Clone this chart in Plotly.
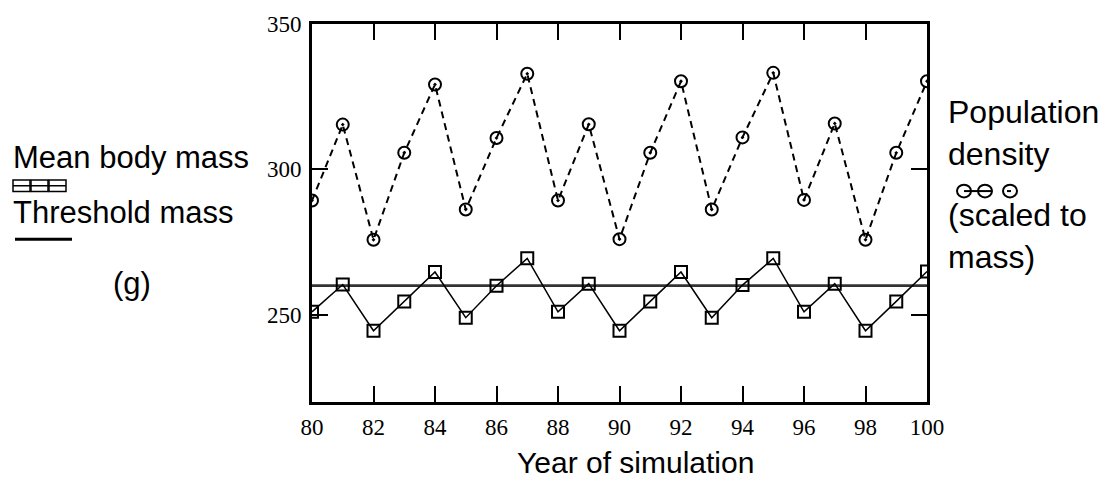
import plotly.graph_objects as go

# Simulation years and series values
years = list(range(80, 101))
population_density = [289.3, 315.4, 275.8, 305.7, 329.2, 286.2, 310.8, 332.9, 289.3, 315.5,
                      276.0, 305.7, 330.3, 286.2, 311.0, 333.2, 289.5, 315.8, 275.8, 305.7, 330.3]
mean_body_mass = [251.0, 260.4, 244.5, 254.6, 264.7, 249.0, 260.0, 269.4, 251.0, 260.7,
                  244.5, 254.6, 264.7, 249.0, 260.2, 269.4, 251.0, 260.7, 244.5, 254.6, 264.9]
threshold_mass = 260.0
x_ticks = list(range(80, 101, 2))
y_ticks = [250, 300, 350]

W, H = 1116, 484
L, R, T, B = 312, 189, 14, 82
PW, PH = W - L - R, H - T - B


def px(x):
    return (x - L) / PW


def py(y):
    return (H - B - y) / PH


SANS = "Liberation Sans, Arial, sans-serif"
SERIF = "Liberation Serif, Times New Roman, serif"

fig = go.Figure()

fig.add_trace(go.Scatter(
    x=[years[0], years[-1]], y=[threshold_mass, threshold_mass], mode="lines",
    line=dict(color="#333333", width=2.8), hoverinfo="skip"))

fig.add_trace(go.Scatter(
    x=years, y=population_density, mode="lines+markers",
    line=dict(color="black", width=2, dash="7px,5px"),
    marker=dict(symbol="circle-open-dot", size=12, color="black",
                line=dict(width=2, color="black"))))

fig.add_trace(go.Scatter(
    x=years, y=mean_body_mass, mode="lines+markers",
    line=dict(color="black", width=1.5),
    marker=dict(symbol="square-open", size=12, color="black",
                line=dict(width=2, color="black"))))

shapes = []
# Legend glyph: three squares with a rule through them
for x0 in (13, 31, 49):
    shapes.append(dict(type="rect", xref="paper", yref="paper",
                       x0=px(x0), x1=px(x0 + 17), y0=py(186), y1=py(174),
                       line=dict(color="black", width=1.5)))
shapes.append(dict(type="line", xref="paper", yref="paper",
                   x0=px(13), x1=px(66), y0=py(180), y1=py(180),
                   line=dict(color="black", width=1.5)))
# Legend glyph: threshold rule
shapes.append(dict(type="line", xref="paper", yref="paper",
                   x0=px(15), x1=px(72), y0=py(235), y1=py(235),
                   line=dict(color="black", width=3)))
# Legend glyph: three circles
for cx in (964, 985, 1010):
    shapes.append(dict(type="circle", xref="paper", yref="paper",
                       x0=px(cx - 7), x1=px(cx + 7), y0=py(192), y1=py(179),
                       line=dict(color="black", width=2)))
shapes.append(dict(type="line", xref="paper", yref="paper",
                   x0=px(964), x1=px(992), y0=py(185.5), y1=py(185.5),
                   line=dict(color="black", width=2)))
shapes.append(dict(type="line", xref="paper", yref="paper",
                   x0=px(1007), x1=px(1011), y0=py(185.5), y1=py(185.5),
                   line=dict(color="black", width=2)))

annotations = [
    dict(text="Mean body mass", x=px(11), y=py(151), xanchor="left", yanchor="middle", size=31),
    dict(text="Threshold mass", x=px(11), y=py(207), xanchor="left", yanchor="middle", size=31),
    dict(text="(g)", x=px(132), y=py(280), xanchor="center", yanchor="middle", size=31),
    dict(text="Population<br>density", x=px(946), y=py(126), xanchor="left", yanchor="middle", size=32),
    dict(text="(scaled to<br>mass)", x=px(946), y=py(232), xanchor="left", yanchor="middle", size=32),
    dict(text="Year of simulation", x=px(635), y=py(464), xanchor="center", yanchor="middle", size=30),
]
for a in annotations:
    size = a.pop("size")
    a.update(xref="paper", yref="paper", showarrow=False,
             font=dict(family=SANS, size=size, color="black"), align="left")

fig.update_layout(
    width=W, height=H,
    margin=dict(l=L, r=R, t=T, b=B, pad=0),
    paper_bgcolor="white", plot_bgcolor="white",
    showlegend=False,
    shapes=shapes, annotations=annotations,
)
fig.update_xaxes(
    range=[80, 100], tickvals=x_ticks, ticks="inside", ticklen=16, tickwidth=2,
    tickcolor="black", showline=True, linecolor="black", linewidth=3, mirror="ticks",
    showgrid=False, zeroline=False, ticklabelstandoff=2,
    tickfont=dict(family=SERIF, size=23, color="black"))
fig.update_yaxes(
    range=[220, 350], tickvals=y_ticks, ticks="inside", ticklen=16, tickwidth=2,
    tickcolor="black", showline=True, linecolor="black", linewidth=3, mirror="ticks",
    showgrid=False, zeroline=False, ticklabelstandoff=3,
    tickfont=dict(family=SERIF, size=23, color="black"))

fig.write_html("out.html")
